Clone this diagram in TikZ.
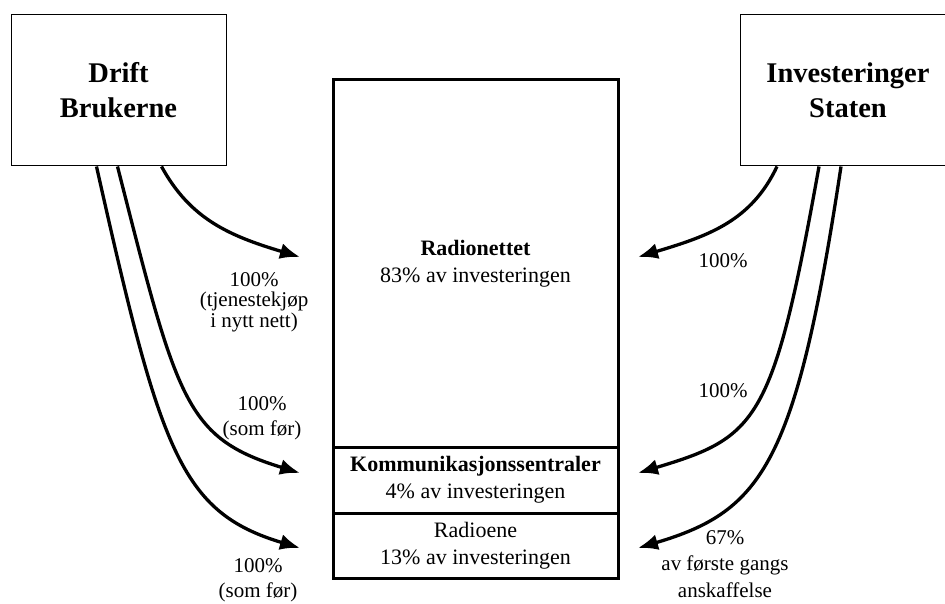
\documentclass[tikz,border=0pt]{standalone}
\usepackage{fontspec}
\setmainfont{Liberation Serif}
\usepackage{tikz}
\usetikzlibrary{arrows.meta, positioning}

\begin{document}
\begin{tikzpicture}[x=1pt, y=1pt, node distance=0pt]
        % Define block styles
        \tikzstyle{head} = [rectangle, draw, line width=1pt, minimum width=215pt, minimum height=151pt, align=center, font=\fontsize{28.5}{35}\selectfont\bfseries]
        \tikzstyle{part} = [rectangle, draw, line width=3pt, outer sep=0pt, minimum width=285pt, align=center, font=\fontsize{22}{27}\selectfont]
        \tikzstyle{share} = [align=center, inner sep=0pt, font=\fontsize{21}{25}\selectfont]
        \tikzstyle{line} = [draw, line width=3.3pt, -{Latex[length=20pt, width=16pt]}]

        \useasboundingbox (0,0) rectangle (945,603);

        % Nodes
        \node [head] (drift) at (118.5,512.5) {Drift\\Brukerne};
        \node [head] (staten) at (848,512.5) {Investeringer\\Staten};

        \node [part, minimum height=367pt] (radionett) at (475.5,339.5) {\textbf{Radionettet}\\83\% av investeringen};
        \node [part, minimum height=66pt, below=of radionett] (sentraler) {\textbf{Kommunikasjonssentraler}\\4\% av investeringen};
        \node [part, minimum height=65pt, below=of sentraler] (radioene) {Radioene\\13\% av investeringen};

        % Arrow ends
        \coordinate (radionett-l) at (300,346);
        \coordinate (sentraler-l) at (300,130);
        \coordinate (radioene-l) at (300,55);
        \coordinate (radionett-r) at (638,346);
        \coordinate (sentraler-r) at (638,130);
        \coordinate (radioene-r) at (638,55);

        % Labels
        \node [share, font=\fontsize{21}{20.5}\selectfont] (tjenestekjop) at (254,301) {100\%\\(tjenestekjøp\\i nytt nett)};
        \node [share] (somfor1) at (262,185) {100\%\\(som før)};
        \node [share] (somfor2) at (258,23) {100\%\\(som før)};
        \node [share] (stat1) at (723,342) {100\%};
        \node [share] (stat2) at (723,212) {100\%};
        \node [share, font=\fontsize{21}{26.5}\selectfont] (anskaffelse) at (725,39) {67\%\\av første gangs\\anskaffelse};

        % Paths
        \path [line] ([xshift=151pt]drift.south west) .. controls +(29,-53) and +(-70,21) .. (radionett-l);
        \path [line] ([xshift=107pt]drift.south west) .. controls +(60,-235) and +(-115,35) .. (sentraler-l);
        \path [line] ([xshift=86pt]drift.south west) .. controls +(64,-285) and +(-120,36) .. (radioene-l);
        \path [line] ([xshift=37pt]staten.south west) .. controls +(-26,-55) and +(70,21) .. (radionett-r);
        \path [line] ([xshift=79pt]staten.south west) .. controls +(-46,-256) and +(120,36) .. (sentraler-r);
        \path [line] ([xshift=101pt]staten.south west) .. controls +(-45,-297) and +(125,37) .. (radioene-r);

    \end{tikzpicture}
\end{document}
